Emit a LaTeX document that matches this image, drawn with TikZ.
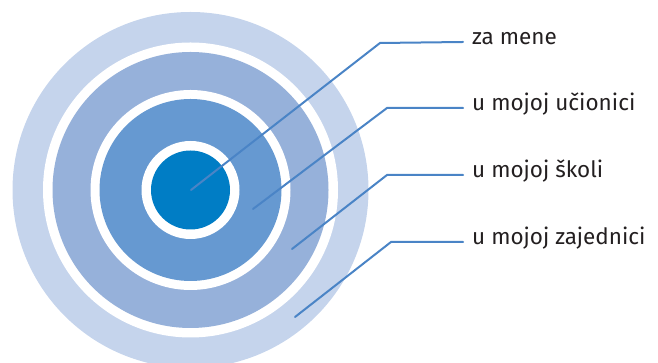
\documentclass[tikz,border=0pt]{standalone}
\usepackage{fontspec}
\setmainfont{Fira Sans}
\definecolor{ringA}{HTML}{C5D4EC}
\definecolor{ringB}{HTML}{96B1DA}
\definecolor{ringC}{HTML}{6699D1}
\definecolor{ringD}{HTML}{007DC5}
\definecolor{leadline}{HTML}{4A84C6}
\definecolor{labtext}{HTML}{231F20}
\begin{document}
\begin{tikzpicture}[x=1pt,y=1pt,
      ring/.style = {
        circle, draw=none, inner sep=0pt, outer sep=0pt
      }, gap/.style = {
        ring, fill=white
      }, lead/.style = {
        draw=leadline, line width=2pt, line cap=round
      }
    ]
      \tikzset{lab/.style={anchor=mid west,inner xsep=9pt,inner ysep=0pt,text=labtext,font=\fontsize{22.5}{24}\selectfont}}
      \useasboundingbox (0,0) rectangle (658,363);
      \clip (0,0) rectangle (658,363);
      \coordinate (c) at (190.5,173);
      \node[ring,fill=ringA,minimum size=356pt] (ring1) at (c) {};
      \node[gap,minimum size=295pt] at (c) {};
      \node[ring,fill=ringB,minimum size=276pt] (ring2) at (c) {};
      \node[gap,minimum size=200pt] at (c) {};
      \node[ring,fill=ringC,minimum size=182pt] (ring3) at (c) {};
      \node[gap,minimum size=98pt] at (c) {};
      \node[ring,fill=ringD,minimum size=79pt] (ring4) at (c) {};
      \node[lab] (mene) at (463,321) {za mene};
      \node[lab] (ucionica) at (463,255) {u mojoj učionici};
      \node[lab] (skola) at (463,188) {u mojoj školi};
      \node[lab] (zajednica) at (463,121) {u mojoj zajednici};
      \coordinate (p1) at (191,173);
      \coordinate (p2) at (253,154);
      \coordinate (p3) at (292,114);
      \coordinate (p4) at (295,46);
      \draw[lead] (p1) -- (380,320) -- (mene.mid west);
      \draw[lead] (p2) -- (387,255) -- (ucionica.mid west);
      \draw[lead] (p3) -- (387,188) -- (skola.mid west);
      \draw[lead] (p4) -- (391,121) -- (zajednica.mid west);
    \end{tikzpicture}
\end{document}
